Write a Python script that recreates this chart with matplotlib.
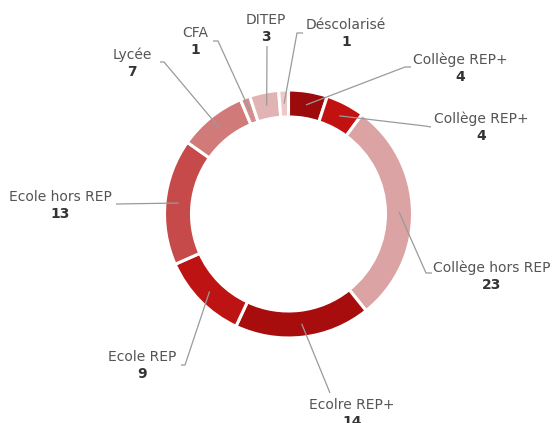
import numpy as np
import matplotlib
matplotlib.use("Agg")
import matplotlib.pyplot as plt

# data, clockwise from the top
labels = ["Collège REP+", "Collège REP+", "Collège hors REP", "Ecolre REP+", "Ecole REP",
          "Ecole hors REP", "Lycée", "CFA", "DITEP", "Déscolarisé"]
values = [4, 4, 23, 14, 9, 13, 7, 1, 3, 1]
colors = ["#9c0a0c", "#c21111", "#dba3a3", "#a80d0d", "#bd1313",
          "#c74a4b", "#d07a7a", "#d48c8c", "#e2b3b3", "#ecc9c9"]

# label layout in pixels from top-left: text, elbow, end of leader
text_pos = [(460, 60), (481, 119), (492, 268), (352, 405), (142, 357),
            (60, 197), (132, 55), (195, 33), (266, 20), (346, 25)]
elbow_pos = [(405, 67), (425, 126), (426, 273), (330, 393), (185, 365),
             (116, 204), (164, 62), (218, 41), (267, 46), (297, 33)]
end_pos = [(411, 67), (431, 127), (432, 273), (330, 393), (181, 365),
           (116, 204), (160, 62), (213, 41), (267, 46), (303, 33)]

W, H = 555, 423
fig = plt.figure(figsize=(W / 100, H / 100), dpi=100)
ax = fig.add_axes([0, 0, 1, 1])

cx, cy, R, ring = 288.5, H - 214, 124, 27
wedges, _ = ax.pie(values, colors=colors, startangle=90, counterclock=False,
                   center=(cx, cy), radius=R, frame=True,
                   wedgeprops=dict(width=ring, edgecolor="white", linewidth=2.2))
ax.set_xlim(0, W)
ax.set_ylim(0, H)
ax.set_aspect("equal")
ax.axis("off")

for w, lab, v, t, e, n in zip(wedges, labels, values, text_pos, elbow_pos, end_pos):
    ang = np.deg2rad((w.theta1 + w.theta2) / 2)
    r = R - ring / 2
    sx, sy = cx + r * np.cos(ang), cy + r * np.sin(ang)
    ax.plot([sx, e[0], n[0]], [sy, H - e[1], H - n[1]], color="#9a9a9a", lw=0.9,
            solid_capstyle="butt")
    ax.text(t[0], H - t[1], lab, ha="center", va="center", fontsize=10, color="#555555")
    ax.text(t[0], H - t[1] - 17, str(v), ha="center", va="center", fontsize=10,
            fontweight="bold", color="#333333")

fig.savefig("out.png", dpi=100)
